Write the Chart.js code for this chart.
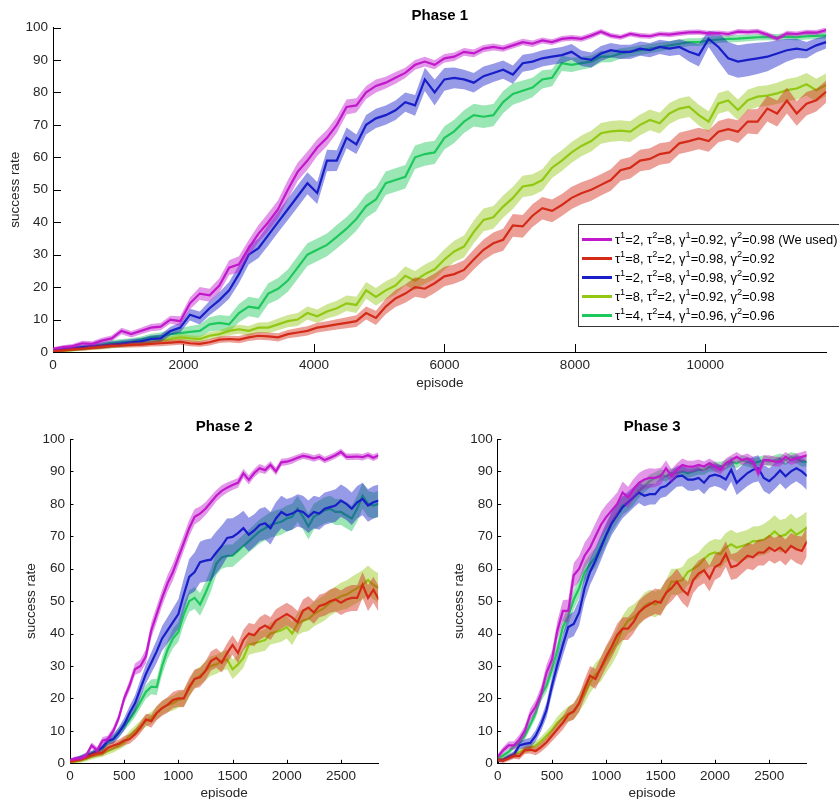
<!DOCTYPE html>
<html>
<head>
<meta charset="utf-8">
<script src="https://cdn.jsdelivr.net/npm/chart.js@4.4.0/dist/chart.umd.min.js"></script>
<style>
  html, body { margin: 0; padding: 0; background: #fff; overflow: hidden; width: 839px; height: 799px; }
  canvas { position: absolute; display: block; }
  #phase1 { left: 0; top: 0; }
  #phase2 { left: 0; top: 400px; }
  #phase3 { left: 420px; top: 400px; }
</style>
</head>
<body>
<canvas id="phase1" width="839" height="400"></canvas>
<canvas id="phase2" width="420" height="404"></canvas>
<canvas id="phase3" width="419" height="404"></canvas>
<script>
// ---- legend parameters (one entry per run) ----
const tau1 = [2, 8, 2, 8, 4];
const tau2 = [8, 2, 8, 2, 4];
const gamma1 = ['0.92', '0.98', '0.98', '0.92', '0.96'];
const gamma2 = ['0.98', '0.92', '0.92', '0.98', '0.96'];
const labelNote = [' (We used)', '', '', '', ''];

// ---- tick labels ----
const yTicks = [0, 10, 20, 30, 40, 50, 60, 70, 80, 90, 100];
const xTicksPhase1 = [0, 2000, 4000, 6000, 8000, 10000];
const xTicksPhase23 = [0, 500, 1000, 1500, 2000, 2500];

// ---- episode spacing of the logged points ----
const stepPhase1 = 150;
const stepPhase23 = 50;

// ---- Phase 1: mean success rate (%) ----
const p1Magenta = [
  1,1.5,1.8,2.7,2.5,3.5,4.2,6.5,5.5,6.5,
  7.5,7.8,10,9.5,15,18,17.5,20.5,26,27,
  32,36.5,40,44,50,55.5,59,63,66,70,
  75.5,76,80,82,83,84.5,86,88.5,89.5,88.5,
  90.5,91,92.5,92,93.5,94,93.5,94.5,95.5,95,
  96,95.5,96.5,96.8,96.5,97.5,98.7,97.5,97,98,
  97.5,97.3,98,97.8,98.2,98.5,98.6,98.2,98.3,98,
  98.7,98.6,98.8,97.8,96.5,98.2,98,98.5,98.4,99.2];
const p1Red = [
  0.3,0.5,0.8,1,1.3,1.6,1.9,2,2.2,2.3,
  2.5,2.7,2.9,3.1,2.7,2.5,3,3.8,4,3.8,
  4.5,5,4.8,4.5,5.5,6,6.5,7.5,8,8.5,
  9,9.5,12,10.5,14,16.5,18,20,19.5,21.2,
  23.3,24,25.3,28.5,31.5,33.5,34.6,39,38.7,42,
  44.3,43.5,45.3,47.5,48.9,50,51.5,53,56,56.8,
  59,59.5,61,61.5,64.3,65,65.8,65,67.9,68.7,
  67.9,71,71,75,73.5,77.5,73.5,76.5,77.6,80.2];
const p1Blue = [
  0.5,0.8,1.2,1.5,1.8,2,2.3,2.6,3,3.3,
  4,4.2,6.5,7.5,11.5,10.5,13.5,16,19,24,
  30,32,36,40,44,48,52,49,59,59,
  66,64,70,72,73,74.5,77,76,84,80,
  84,84.5,84,83,85,86,87,85.5,89,89.5,
  90.5,91,91.5,92.5,90.5,90,92,93,92.5,92.5,
  93.5,93,94,93.5,94,92.5,91.5,96.5,94,90.5,
  89.5,90,90.5,91,92,93,93.5,93,94.5,95.5];
const p1Lime = [
  0,0.3,0.6,1,1.2,1.5,1.8,2.1,2.4,2.8,
  3,3.5,4,4.5,4.2,4,5,5.5,6.5,7,
  6.5,7.5,7.5,8.5,9.5,10,12,11,12.5,13.5,
  15,14.5,19,17,19,20.5,23.5,22,24,25.5,
  28.5,31,32.5,37,40.7,41.5,44.8,47.5,51,51.5,
  53,56.8,59,61.5,63.5,65,67.4,68,68.2,67.9,
  70,71.5,70.5,73.5,75,75.6,73,71,76.6,77.5,
  74.6,77.6,78.7,79,79.7,80.7,81.2,82.5,80.7,82.3];
const p1Green = [
  0.5,0.8,1,1.3,1.8,2.2,2.8,3,3.2,3.8,
  4.5,4.8,5.5,5.8,6.2,6.5,8.5,9,8.5,12,
  14,13.5,18,19.5,22,26,30,31.5,33,35.5,
  38,41,45,47,52,53,54,60,61,61.5,
  66,68,71,73,72.5,73,77,79.5,80.5,81.5,
  84,84.5,89,88.5,89,89.5,91,91,92,92.5,
  93,93.5,94,94.5,95,95.5,95.5,96,96.3,96.5,
  96.6,96.8,97,97.1,97,97.2,97,97.3,97.4,97.6];

// ---- Phase 1: half-width of the shaded band ----
const p1MagentaSpread = [
  0.5,0.6,0.7,0.8,0.8,0.9,0.9,1,1,1,
  1.1,1.1,1.2,1.5,1.8,2,2,2.2,2.3,2.5,
  2.5,2.6,2.8,2.8,3,2.8,2.8,2.6,2.5,2.5,
  2.3,2.2,2,2,1.8,1.8,1.6,1.5,1.5,1.4,
  1.3,1.3,1.2,1.2,1.1,1.1,1,1,1,1,
  0.9,0.9,0.9,0.9,0.9,0.9,0.8,0.8,0.8,0.8,
  0.8,0.8,0.8,0.8,0.8,0.8,0.8,0.8,0.8,0.8,
  0.8,0.8,0.8,0.8,0.8,0.8,0.8,0.8,0.8,0.8];
const p1RedSpread = [
  0.4,0.5,0.5,0.6,0.6,0.7,0.7,0.7,0.8,0.8,
  0.8,0.9,0.9,0.9,0.9,0.9,1,1,1,1.1,
  1.1,1.2,1.2,1.3,1.3,1.4,1.4,1.5,1.5,1.6,
  1.7,1.8,2,2.2,2.4,2.6,2.8,3,3,3,
  3,3,3,3.1,3.2,3.3,3.4,3.5,3.5,3.5,
  3.5,3.5,3.4,3.4,3.4,3.4,3.3,3.3,3.3,3.3,
  3.3,3.3,3.3,3.3,3.3,3.3,3.3,3.3,3.3,3.3,
  3.5,3.7,3.9,4,4,4,3.8,3.6,3.5,3.4];
const p1BlueSpread = [
  0.5,0.6,0.7,0.8,0.8,0.9,0.9,1,1,1,
  1.1,1.2,1.3,1.5,1.8,2,2.2,2.4,2.6,2.8,
  3,3,3.2,3.2,3.3,3.4,3.4,3.4,3.3,3.2,
  3.2,3,3,3,3,3,3,3.2,3.6,4,
  3.5,3.2,3,3,3,2.8,2.8,2.8,2.6,2.6,
  2.5,2.5,2.5,2.4,2.4,2.3,2.3,2.2,2.2,2.2,
  2.2,2.2,2.2,2.3,2.4,3,3.5,2.5,4.5,5,
  5,5,4.8,4.5,4,3.5,3,2.5,2.2,2];
const p1LimeSpread = [
  0.4,0.5,0.5,0.6,0.6,0.7,0.7,0.7,0.8,0.8,
  0.8,0.9,0.9,1,1,1,1.1,1.2,1.3,1.4,
  1.5,1.6,1.7,1.8,1.9,2,2,2.1,2.2,2.3,
  2.4,2.5,2.6,2.7,2.8,2.8,2.9,3,3,3,
  3.2,3.3,3.4,3.5,3.5,3.5,3.4,3.4,3.3,3.3,
  3.3,3.2,3.2,3.2,3.2,3.2,3.2,3.2,3.2,3.2,
  3.2,3.2,3.2,3.2,3.2,3.2,3.2,3.2,3.2,3.2,
  3.2,3.2,3.2,3.2,3.3,3.4,3.5,3.5,3.5,3.5];
const p1GreenSpread = [
  0.5,0.6,0.7,0.8,0.8,0.9,0.9,1,1,1,
  1.1,1.2,1.3,1.5,1.8,2,2.2,2.4,2.6,2.8,
  3,3,3.2,3.3,3.4,3.5,3.5,3.5,3.5,3.6,
  3.6,3.6,3.6,3.6,3.6,3.6,3.6,3.6,3.6,3.6,
  3.6,3.6,3.5,3.5,3.5,3.4,3.4,3.3,3.2,3,
  2.8,2.6,2.4,2.2,2,1.9,1.8,1.7,1.6,1.5,
  1.5,1.4,1.4,1.3,1.3,1.2,1.2,1.2,1.1,1.1,
  1.1,1,1,1,1,1,1,1,1,1];

// ---- Phase 2: mean success rate (%) ----
const p2Magenta = [
  1,1.5,1.6,2.5,5.5,4,7,7.5,10,14,
  20,24,29,30,33,41,46,51,55.5,59,
  63.5,68,72.5,76,77,78.5,80.5,82.5,84,85,
  85.8,86.5,89.4,87.4,89.5,91,90.4,92,90,92.8,
  93,93.5,94.2,94.8,94.5,94,94.5,93.5,94.2,95,
  96,94.5,94.5,94.6,94.4,95,94.2,95];
const p2Red = [
  0.5,0.8,1.2,1.8,2.5,3,3.3,4.8,5.5,6,
  7,7.5,9,11,13.5,13,15.5,17,18,19.5,
  20,20,23.5,26,26.5,28.5,31.5,32.5,31,34,
  36.5,34,38,40,39.5,41.5,42.5,41.5,44,45,
  46,45,43.5,47,48,46.5,48.5,49,50,50.5,
  49.5,50.5,51,51,55,51,53.5,50.5];
const p2Blue = [
  1,1.3,1.8,2.3,3,3.8,5,7,7.5,9.5,
  12,15.5,18.5,23,27.5,31,34.5,38.5,41,43.5,
  46,52,57.5,59,62,62.5,62.8,65,67,69.5,
  69.8,71,72.5,70.5,71.8,73.5,74,72.5,75.5,77.5,
  76.5,77,78,77.5,76,77.5,77,78.5,79,79.5,
  81,80,78.5,80.5,81.5,79.5,80.5,81];
const p2Lime = [
  0.3,0.5,0.8,1.3,2,2.5,3,3.8,4.5,5.5,
  6.5,8.5,10,11.5,13,14,15.5,17,18,18.5,
  19.5,20,23,26,27,28.5,30,30.5,31.5,32,
  29,30.5,32.5,36.5,37,37.5,38,40,40.5,41,
  42,40,43,44,44.5,46,47,48,49.5,50.5,
  51.5,52,53,54,55,56.5,55,54];
const p2Green = [
  0.8,1.2,1.8,2.5,3,3.5,4.5,6.5,7.5,9.5,
  11.5,13.5,16,19,22,23.6,23.5,30,35,38.5,
  40.5,46,50,51,49,52.5,56.5,61.5,63.5,64,
  64,65.5,67,68.5,70,71.5,72.5,73.5,74,74.5,
  75.5,76,78.5,76,73,76,77,78,78.5,77.5,
  77.5,76.5,75.5,78.5,82.5,80,79.5,80];

// ---- Phase 2: half-width of the shaded band ----
const p2MagentaSpread = [
  0.5,0.6,0.7,0.8,0.9,1,1,1.1,1.2,1.3,
  1.4,1.6,1.8,2,2.2,2.4,2.5,2.5,2.6,2.6,
  2.6,2.5,2.5,2.4,2.2,2,1.9,1.8,1.7,1.6,
  1.5,1.5,1.4,1.4,1.3,1.3,1.2,1.2,1.2,1.1,
  1.1,1.1,1,1,1,1,1,1,1,1,
  1,1,1,1,1,1,1,1];
const p2RedSpread = [
  0.4,0.5,0.6,0.7,0.8,0.9,1,1.1,1.2,1.3,
  1.4,1.5,1.6,1.7,1.8,2,2.2,2.3,2.4,2.5,
  2.6,2.7,2.8,2.9,3,3,3,3,3,3,
  3,3.1,3.2,3.3,3.4,3.5,3.5,3.5,3.5,3.5,
  3.5,3.5,3.5,3.5,3.5,3.5,3.5,3.5,3.6,3.7,
  3.8,3.9,4,4,4,4,4,4];
const p2BlueSpread = [
  0.5,0.6,0.7,0.8,0.9,1,1.1,1.3,1.5,1.7,
  2,2.2,2.5,2.8,3,3.2,3.5,3.8,4,4.3,
  4.6,5,5.5,6,6.3,6.5,6.5,6.5,6.3,6,
  5.8,5.6,5.4,5.2,5,5,5,5,5,5,
  5,5,5,5,5,5,5,5,5,5,
  5,5,5,5,5,5,5,5];
const p2LimeSpread = [
  0.4,0.5,0.6,0.7,0.8,0.9,1,1.1,1.2,1.3,
  1.4,1.5,1.6,1.7,1.8,1.9,2,2.1,2.2,2.3,
  2.4,2.5,2.6,2.7,2.8,2.9,3,3,3,3,
  3,3,3,3,3.1,3.2,3.3,3.4,3.5,3.5,
  3.5,3.5,3.5,3.6,3.7,3.8,3.9,4,4,4,
  4.2,4.4,4.5,4.5,4.5,4.5,4.5,4.5];
const p2GreenSpread = [
  0.5,0.6,0.7,0.8,0.9,1,1,1.1,1.2,1.3,
  1.4,1.5,1.7,1.9,2.1,2.3,2.5,2.7,2.8,3,
  3,3.2,3.3,3.4,3.5,3.5,3.5,3.5,3.5,3.5,
  3.5,3.5,3.5,3.5,3.6,3.7,3.8,3.9,4,4,
  4,4,4,4,4,4,4,4,4,4,
  4,4,4,4,4,4,4,4];

// ---- Phase 3: mean success rate (%) ----
const p3Magenta = [
  2,4,5.5,5.5,7.3,10,15,17.5,21.5,28,
  32,41,47,47,58,60,64,66.5,70,73.5,
  76,78,80,83.5,82,84.5,86.5,87.5,88,88,
  88.5,91,88.5,90.5,92,91.5,91.5,92,91.5,92.5,
  91.5,90.5,92.5,93.5,94.5,93.5,94,93,89.5,93.5,
  93.5,93,93,94.5,93.5,94,94.5,95];
const p3Red = [
  1,0.8,1.5,2.3,2.2,4,4.2,3.8,5,6.5,
  8.5,10.5,12.5,15,16,18.5,23,27,26,29.5,
  33,36,39.5,41.5,41.5,43.5,46.5,48,49,50,
  49.5,52.5,54,56,53.5,52,56.5,58.5,59.5,57,
  60.5,61.5,64.5,60.5,61,62.5,64,63.5,65,65,
  66.5,65.5,66.5,65,67,66,65.5,68.5];
const p3Blue = [
  1,1,2,2.8,5.5,6,6.3,8.5,12,16.5,
  24,30.5,36.5,42,43,46.5,54,59,62.5,66.5,
  70.5,74,76.5,79,80.5,82,83.5,82.5,83,83,
  85,85.5,87,88.5,88.7,87.5,87.5,88,86.5,88.5,
  89,88.5,87.5,90.5,86.5,88,89.5,90.5,91,88,
  87,88.5,90.3,88.5,90,91,90,88.5];
const p3Lime = [
  1.2,1.3,1.8,2.5,3.4,4.3,4.8,5.5,6.8,8.5,
  10.3,12.5,14,15.3,16,18.7,21.5,25,27.5,29,
  32,34.5,37.5,41.5,44,45,46.5,48.5,49.5,49,
  50,52.5,56,56,56.5,59,60,61,63,64.5,
  65,64.5,66.5,67.5,66.5,67,67.5,68.5,68.5,69,
  70,71.5,70,70.5,72,70.5,71.5,72.8];
const p3Green = [
  1.5,2.4,3.5,5.2,6.3,8.5,12,15.5,21,24,
  29,35,42,45.5,50.5,54,59,61.5,63.5,67,
  70.5,74.5,77,79.5,80.5,82,84,85.5,87,88,
  89,88.5,89.5,89.5,90,89.5,90,90.5,90.5,91.5,
  91.5,91.5,92,93,92.5,93.5,93,92.5,93,93.5,
  93,93.5,94,93.5,94.5,94,93,93];

// ---- Phase 3: half-width of the shaded band ----
const p3MagentaSpread = [
  0.8,1,1.2,1.3,1.5,1.6,1.8,2,2.2,2.5,
  2.8,3,3.3,3.5,3.8,4,4,4,4,4,
  3.8,3.6,3.5,3.4,3.3,3.2,3,3,3,2.8,
  2.6,2.4,2.2,2,2,1.8,1.8,1.7,1.6,1.5,
  1.5,1.5,1.5,1.5,1.5,1.5,1.5,1.5,1.5,1.5,
  1.5,1.5,1.5,1.5,1.5,1.5,1.5,1.5];
const p3RedSpread = [
  0.6,0.7,0.8,0.9,1,1.1,1.2,1.3,1.4,1.5,
  1.7,1.9,2.1,2.3,2.5,2.7,2.9,3,3.1,3.2,
  3.3,3.4,3.5,3.5,3.5,3.5,3.6,3.7,3.8,3.9,
  4,4,4,4,4,4,4,4,4,4,
  4,4,4,4,4,4,4,4,4,4,
  4,4,4,4,4,4.2,4.4,4.5];
const p3BlueSpread = [
  0.6,0.7,0.8,1,1.2,1.4,1.6,1.8,2,2.3,
  2.6,3,3.3,3.6,3.8,4,4,4,4,4,
  3.8,3.6,3.5,3.4,3.3,3.2,3.2,3.2,3.2,3.2,
  3.2,3.2,3.2,3.2,3.3,3.4,3.5,3.5,3.5,3.5,
  3.5,3.5,3.6,3.7,3.8,3.9,4,4,4,4,
  4,4,4,4,4,4,4.2,4.4];
const p3LimeSpread = [
  0.6,0.7,0.8,0.9,1,1.1,1.2,1.3,1.4,1.5,
  1.7,1.9,2.1,2.3,2.5,2.8,3,3.3,3.5,3.8,
  4,4,4,4,4,4,4,4,4,4,
  4,4,4,4,4,4,4,4,4,4,
  4.2,4.4,4.5,4.5,4.5,4.5,4.5,4.5,4.6,4.8,
  5,5,5,5,5,5,5,5];
const p3GreenSpread = [
  0.6,0.7,0.8,0.9,1,1.2,1.4,1.6,1.8,2,
  2.2,2.4,2.6,2.8,3,3,3,3,3,3,
  3,3,3,2.8,2.6,2.4,2.2,2,2,1.8,
  1.7,1.6,1.5,1.5,1.5,1.5,1.5,1.5,1.5,1.5,
  1.5,1.5,1.5,1.5,1.5,1.5,1.5,1.5,1.5,1.5,
  1.5,1.5,1.5,1.5,1.5,1.5,1.5,1.5];

// ---- styling ----
const LINE_RGB = ['194,24,204', '212,42,24', '24,30,200', '146,200,20', '30,200,92'];
const BAND_ALPHA = 0.45;
const FONT = '"Liberation Sans", Arial, Helvetica, sans-serif';

Chart.defaults.font.family = FONT;
Chart.defaults.font.size = 13.5;
Chart.defaults.color = '#262626';

// Build band (upper/lower) + mean line datasets for each run.
function buildDatasets(step, means, spreads) {
  const sets = [];
  means.forEach((m, i) => {
    const sp = spreads[i];
    const pts = f => m.map((v, k) => ({ x: k * step, y: f(v, sp[k]) }));
    sets.push({
      data: pts((v, e) => v + e), fill: '+1',
      backgroundColor: `rgba(${LINE_RGB[i]},${BAND_ALPHA})`,
      borderColor: 'rgba(0,0,0,0)', borderWidth: 0, pointRadius: 0, order: 2 * i + 1
    });
    sets.push({
      data: pts((v, e) => v - e), fill: false,
      borderColor: 'rgba(0,0,0,0)', borderWidth: 0, pointRadius: 0, order: 2 * i + 1
    });
    sets.push({
      data: pts(v => v), fill: false,
      borderColor: `rgb(${LINE_RGB[i]})`, borderWidth: 2.2, pointRadius: 0, order: 2 * i
    });
  });
  return sets;
}

// Tick marks pointing into the plot area, drawn under the data.
const inwardTicks = {
  id: 'inwardTicks',
  beforeDatasetsDraw(chart, args, opts) {
    const { ctx, chartArea } = chart;
    const xs = chart.scales.x, ys = chart.scales.y;
    const len = opts.length || 4;
    ctx.save();
    ctx.strokeStyle = '#000';
    ctx.lineWidth = 1;
    ctx.beginPath();
    xs.ticks.forEach(t => {
      const px = Math.round(xs.getPixelForValue(t.value)) + 0.5;
      ctx.moveTo(px, chartArea.bottom);
      ctx.lineTo(px, chartArea.bottom - len);
    });
    ys.ticks.forEach(t => {
      const py = Math.round(ys.getPixelForValue(t.value)) + 0.5;
      ctx.moveTo(chartArea.left, py);
      ctx.lineTo(chartArea.left + len, py);
    });
    ctx.stroke();
    ctx.restore();
  }
};

// Boxed legend with superscripted parameter names.
const paramLegend = {
  id: 'paramLegend',
  afterDraw(chart, args, opts) {
    if (!opts.show) return;
    const ctx = chart.ctx;
    const { left, top, bottom, rowY, sampleX0, sampleX1, textX } = opts;
    ctx.save();
    ctx.fillStyle = '#fff';
    ctx.fillRect(left, top, chart.width - left + 5, bottom - top);
    ctx.strokeStyle = '#333';
    ctx.lineWidth = 1;
    ctx.strokeRect(left + 0.5, top + 0.5, chart.width - left + 5, bottom - top);
    for (let i = 0; i < tau1.length; i++) {
      const y = rowY[i];
      ctx.strokeStyle = `rgb(${LINE_RGB[i]})`;
      ctx.lineWidth = 3;
      ctx.beginPath();
      ctx.moveTo(sampleX0, y);
      ctx.lineTo(sampleX1, y);
      ctx.stroke();
      const parts = [
        ['\u03C4', 0], ['1', 1], ['=' + tau1[i] + ', \u03C4', 0], ['2', 1],
        ['=' + tau2[i] + ', \u03B3', 0], ['1', 1], ['=' + gamma1[i] + ', \u03B3', 0], ['2', 1],
        ['=' + gamma2[i] + labelNote[i], 0]
      ];
      let x = textX;
      ctx.fillStyle = '#000';
      ctx.textBaseline = 'middle';
      ctx.textAlign = 'left';
      parts.forEach(([txt, sup]) => {
        ctx.font = sup ? `${opts.supSize}px ${FONT}` : `${opts.fontSize}px ${FONT}`;
        ctx.fillText(txt, x, sup ? y - 4 : y + 1);
        x += ctx.measureText(txt).width;
      });
    }
    ctx.restore();
  }
};

function makeChart(id, cfg) {
  const { step, means, spreads, xMax, xTicks, title, yWidth, xHeight, padRight,
          titlePad, yTitlePad, xTitlePad, tickLen, legend } = cfg;
  return new Chart(document.getElementById(id), {
    type: 'line',
    data: { datasets: buildDatasets(step, means, spreads) },
    plugins: [inwardTicks, paramLegend],
    options: {
      responsive: false,
      animation: false,
      devicePixelRatio: 1,
      parsing: false,
      normalized: true,
      elements: { line: { tension: 0, borderJoinStyle: 'miter' } },
      layout: { padding: { left: 0, right: padRight, top: 0, bottom: 0 } },
      plugins: {
        legend: { display: false },
        tooltip: { enabled: false },
        title: {
          display: true, text: title, fullSize: false, color: '#000',
          font: { size: 15, weight: 'bold' }, padding: titlePad
        },
        inwardTicks: { length: tickLen },
        paramLegend: legend || { show: false }
      },
      scales: {
        x: {
          type: 'linear', min: 0, max: xMax,
          grid: { display: false, drawTicks: false },
          border: { display: true, color: '#000', width: 1 },
          ticks: { padding: 5.3, includeBounds: false, maxRotation: 0, autoSkip: false,
                   callback: v => String(v) },
          afterBuildTicks: s => { s.ticks = xTicks.map(v => ({ value: v })); },
          afterFit: s => { s.height = xHeight; },
          title: { display: true, text: 'episode', color: '#262626', padding: { top: 0, bottom: xTitlePad } }
        },
        y: {
          type: 'linear', min: 0, max: 100,
          grid: { display: false, drawTicks: false },
          border: { display: true, color: '#000', width: 1 },
          ticks: { padding: 5, autoSkip: false, callback: v => String(v) },
          afterBuildTicks: s => { s.ticks = yTicks.map(v => ({ value: v })); },
          afterFit: s => { s.width = yWidth; },
          title: { display: true, text: 'success rate', color: '#262626', padding: { top: yTitlePad, bottom: 0 } }
        }
      }
    }
  });
}

makeChart('phase1', {
  step: stepPhase1,
  means: [p1Magenta, p1Red, p1Blue, p1Lime, p1Green],
  spreads: [p1MagentaSpread, p1RedSpread, p1BlueSpread, p1LimeSpread, p1GreenSpread],
  xMax: 11860, xTicks: xTicksPhase1, title: 'Phase 1',
  yWidth: 53, xHeight: 48, padRight: 12.3,
  titlePad: { top: 7, bottom: 2.5 }, yTitlePad: 7.6, xTitlePad: 8.9, tickLen: 8,
  legend: {
    show: true, left: 578, top: 224, bottom: 326,
    rowY: [239.5, 258.5, 277.5, 296.5, 315.5],
    sampleX0: 582, sampleX1: 612, textX: 615, fontSize: 12.9, supSize: 9.2
  }
});

makeChart('phase2', {
  step: stepPhase23,
  means: [p2Magenta, p2Red, p2Blue, p2Lime, p2Green],
  spreads: [p2MagentaSpread, p2RedSpread, p2BlueSpread, p2LimeSpread, p2GreenSpread],
  xMax: 2845, xTicks: xTicksPhase23, title: 'Phase 2',
  yWidth: 70, xHeight: 40.7, padRight: 41.7,
  titlePad: { top: 18.3, bottom: 2.7 }, yTitlePad: 23.6, xTitlePad: 2.6, tickLen: 3.5
});

makeChart('phase3', {
  step: stepPhase23,
  means: [p3Magenta, p3Red, p3Blue, p3Lime, p3Green],
  spreads: [p3MagentaSpread, p3RedSpread, p3BlueSpread, p3LimeSpread, p3GreenSpread],
  xMax: 2845, xTicks: xTicksPhase23, title: 'Phase 3',
  yWidth: 77.7, xHeight: 40.7, padRight: 32.3,
  titlePad: { top: 18.3, bottom: 2.7 }, yTitlePad: 31.2, xTitlePad: 2.6, tickLen: 3.5
});
</script>
</body>
</html>
